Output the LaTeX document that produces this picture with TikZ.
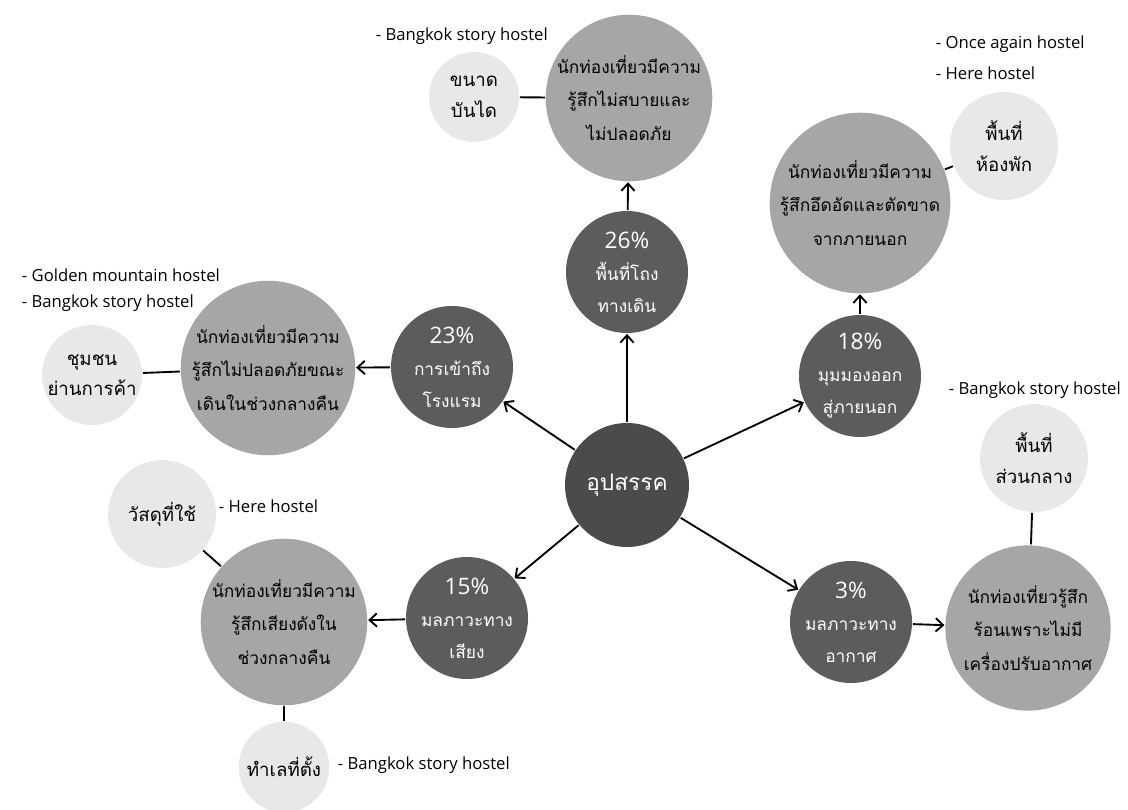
\documentclass[tikz,border=0pt]{standalone}
\usepackage{fontspec}
\usepackage{tikz}
\usetikzlibrary{arrows.meta, positioning}
\setmainfont{Open Sans}
\newfontfamily\thaifont[Script=Thai]{Loma}
\definecolor{hubgray}{HTML}{4B4B4B}
\definecolor{pctgray}{HTML}{5C5C5C}
\definecolor{effgray}{HTML}{A6A6A6}
\definecolor{causegray}{HTML}{E8E8E8}
\tikzstyle{hub}=[circle,fill=hubgray,text=white,minimum size=93pt,inner sep=0pt,font=\thaifont\fontsize{17}{20}\selectfont]
\tikzstyle{pct}=[circle,fill=pctgray,text=white,minimum size=91.5pt,inner sep=0pt,align=center,font=\thaifont\fontsize{13}{24}\selectfont]
\tikzstyle{effect}=[circle,fill=effgray,minimum size=124pt,inner sep=0pt,align=center,font=\thaifont\fontsize{13}{25}\selectfont]
\tikzstyle{cause}=[circle,fill=causegray,inner sep=0pt,align=center,font=\thaifont\fontsize{14}{23}\selectfont]
\tikzstyle{hostel}=[anchor=west,inner sep=0pt,font=\fontsize{12.5}{14}\selectfont]
\newcommand{\pcnt}[1]{{\rmfamily\fontsize{17}{19}\selectfont #1\%}}

\begin{document}
\begin{tikzpicture}[x=0.75pt,y=-0.75pt,line width=1.4pt,>={Straight Barb[length=5.5pt,width=10pt]}]
  \useasboundingbox (0,0) rectangle (1128,810);
  \node[hub] (obstacle) at (627,485) {อุปสรรค};
  \node[pct] (corridor) at (627,272) {\pcnt{26}\\พื้นที่โถง\\ทางเดิน};
  \node[pct] (access) at (452,367) {\pcnt{23}\\การเข้าถึง\\โรงแรม};
  \node[pct] (view) at (860,376) {\pcnt{18}\\มุมมองออก\\สู่ภายนอก};
  \node[pct] (noise) at (467,618) {\pcnt{15}\\มลภาวะทาง\\เสียง};
  \node[pct] (air) at (851,622) {\pcnt{3}\\มลภาวะทาง\\อากาศ};
  \node[effect] (unsafe) at (629,98) {นักท่องเที่ยวมีความ\\รู้สึกไม่สบายและ\\ไม่ปลอดภัย};
  \node[effect] (cramped) at (860,203) {นักท่องเที่ยวมีความ\\รู้สึกอึดอัดและตัดขาด\\จากภายนอก};
  \node[effect] (night) at (268,368) {นักท่องเที่ยวมีความ\\รู้สึกไม่ปลอดภัยขณะ\\เดินในช่วงกลางคืน};
  \node[effect] (loud) at (284,622) {นักท่องเที่ยวมีความ\\รู้สึกเสียงดังใน\\ช่วงกลางคืน};
  \node[effect] (hot) at (1028,628) {นักท่องเที่ยวรู้สึก\\ร้อนเพราะไม่มี\\เครื่องปรับอากาศ};
  \node[cause,minimum size=67.5pt] (stairs) at (474,97) {ขนาด\\บันได};
  \node[cause,minimum size=81pt] (room) at (1004,146) {พื้นที่\\ห้องพัก};
  \node[cause,minimum size=75pt] (community) at (92,375) {ชุมชน\\ย่านการค้า};
  \node[cause,minimum size=81pt] (material) at (162,514) {วัสดุที่ใช้};
  \node[cause,minimum size=68pt] (location) at (284,767) {ทำเลที่ตั้ง};
  \node[cause,minimum size=81pt] (common) at (1034,458) {พื้นที่\\ส่วนกลาง};
  \node[hostel] (h1) at (375,36) {- Bangkok story hostel};
  \node[hostel] (h2) at (935,44) {- Once again hostel};
  \node[hostel] (h3) at (935,73) {- Here hostel};
  \node[hostel] (h4) at (21,275) {- Golden mountain hostel};
  \node[hostel] (h5) at (21,303) {- Bangkok story hostel};
  \node[hostel] (h6) at (218,506) {- Here hostel};
  \node[hostel] (h7) at (337,765) {- Bangkok story hostel};
  \node[hostel] (h8) at (948,390) {- Bangkok story hostel};
  \draw[->] (obstacle) -- (corridor);
  \draw[->] (obstacle) -- (access);
  \draw[->] (obstacle) -- (view);
  \draw[->] (obstacle) -- (noise);
  \draw[->] (obstacle) -- (air);
  \draw[->] (corridor) -- (unsafe);
  \draw[->] (access) -- (night);
  \draw[->] (view) -- (cramped);
  \draw[->] (noise) -- (loud);
  \draw[->] (air) -- (hot);
  \draw (unsafe) -- (stairs);
  \draw (cramped) -- (room);
  \draw (night) -- (community);
  \draw (loud) -- (material);
  \draw (loud) -- (location);
  \draw (hot) -- (common);
\end{tikzpicture}
\end{document}
